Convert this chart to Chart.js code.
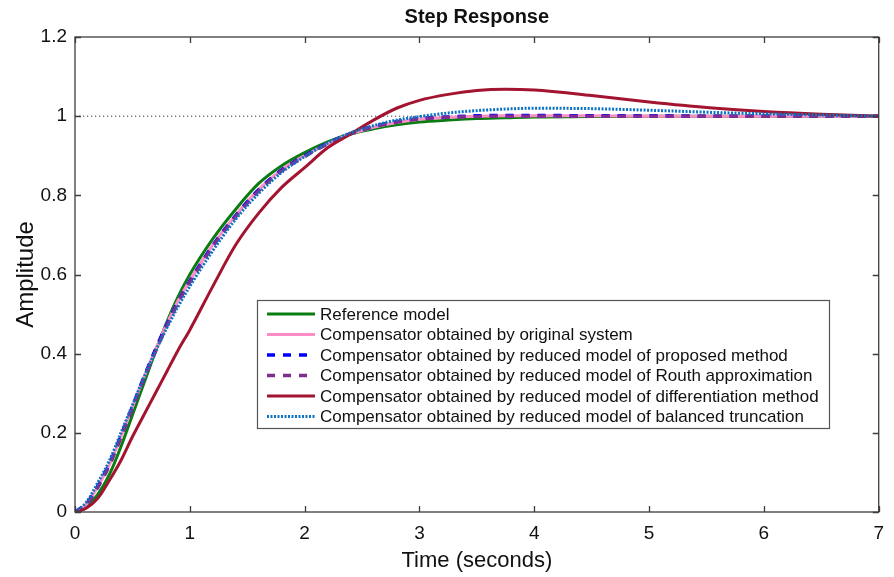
<!DOCTYPE html>
<html>
<head>
<meta charset="utf-8">
<script src="https://cdn.jsdelivr.net/npm/chart.js@4/dist/chart.umd.min.js"></script>
<style>
  html, body { margin: 0; padding: 0; background: #fff; }
  canvas { display: block; }
</style>
</head>
<body>
<canvas id="c" width="894" height="577"></canvas>
<script>
// ---- data ----
const time = [0,0.1,0.2,0.3,0.4,0.5,0.6,0.7,0.8,0.9,1.0,1.2,1.4,1.6,1.8,2.0,2.2,2.4,2.6,2.8,3.0,3.25,3.5,3.75,4.0,4.5,5.0,5.5,6.0,6.5,7.0];
const referenceModel = [0,0.012,0.045,0.095,0.165,0.245,0.325,0.405,0.48,0.545,0.6,0.69,0.765,0.83,0.875,0.908,0.935,0.955,0.968,0.978,0.985,0.99,0.994,0.996,0.998,0.999,1,1,1,1,1];
const originalSystem = [0,0.02,0.065,0.12,0.19,0.265,0.34,0.41,0.475,0.535,0.585,0.675,0.75,0.815,0.865,0.9,0.93,0.955,0.972,0.984,0.992,0.997,1.0,1.001,1.001,1.001,1,1,1,1,1];
const proposedMethod = [0,0.021,0.066,0.122,0.192,0.266,0.34,0.41,0.474,0.533,0.583,0.673,0.749,0.814,0.864,0.9,0.931,0.956,0.974,0.986,0.994,0.998,1.001,1.002,1.002,1.001,1.001,1,1,1,1];
const routhApprox = [0,0.019,0.063,0.118,0.188,0.262,0.336,0.405,0.47,0.53,0.58,0.67,0.746,0.811,0.862,0.898,0.93,0.955,0.973,0.985,0.993,0.997,0.999,1.0,1.0,1.0,1,1,1,1,1];
const differentiation = [0,0.01,0.035,0.08,0.13,0.19,0.245,0.3,0.355,0.41,0.46,0.57,0.675,0.755,0.82,0.87,0.92,0.955,0.99,1.02,1.04,1.055,1.065,1.068,1.066,1.052,1.036,1.022,1.012,1.005,1.0];
const balancedTrunc = [0,0.025,0.075,0.13,0.2,0.27,0.34,0.405,0.465,0.52,0.57,0.66,0.74,0.805,0.858,0.898,0.932,0.958,0.976,0.99,0.999,1.008,1.014,1.018,1.02,1.019,1.015,1.01,1.006,1.003,1.0];
const steadyTime = [0,7];
const steadyValue = [1,1];

const chartTitle = 'Step Response';
const seriesLabels = [
  'Reference model',
  'Compensator obtained by original system',
  'Compensator obtained by reduced model of proposed method',
  'Compensator obtained by reduced model of Routh approximation',
  'Compensator obtained by reduced model of differentiation method',
  'Compensator obtained by reduced model of balanced truncation'
];
const xTickValues = [0,1,2,3,4,5,6,7];
const xTickLabels = ['0','1','2','3','4','5','6','7'];
const yTickValues = [0,0.2,0.4,0.6,0.8,1,1.2];
const yTickLabels = ['0','0.2','0.4','0.6','0.8','1','1.2'];

// ---- build ----
const FONT = '"Liberation Sans", Arial, Helvetica, sans-serif';
Chart.defaults.font.family = FONT;
Chart.defaults.color = '#111';

function pts(xs, ys) { return xs.map((t, i) => ({x: t, y: ys[i]})); }

const styles = [
  {color: '#0a7d12', width: 3, dash: []},
  {color: '#ff8cc6', width: 3, dash: []},
  {color: '#0000ff', width: 3.5, dash: [8, 8]},
  {color: '#7e2f8e', width: 3.5, dash: [8, 8]},
  {color: '#a2142f', width: 3, dash: []},
  {color: '#0b72c4', width: 3, dash: [2, 1.5]}
];
const seriesData = [referenceModel, originalSystem, proposedMethod, routhApprox, differentiation, balancedTrunc];

const datasets = seriesData.map((vals, i) => ({
  label: seriesLabels[i],
  data: pts(time, vals),
  borderColor: styles[i].color,
  borderWidth: styles[i].width,
  borderDash: styles[i].dash,
  pointRadius: 0,
  fill: false,
  cubicInterpolationMode: 'monotone',
  order: 6 - i,
  isSeries: true
}));
datasets.push({
  label: 'steady',
  data: pts(steadyTime, steadyValue),
  borderColor: '#333',
  borderWidth: 1,
  borderDash: [1.2, 2.8],
  pointRadius: 0,
  fill: false,
  order: 10,
  isSeries: false
});

const framePlugin = {
  id: 'frame',
  afterDatasetsDraw(chart) {
    const {ctx, chartArea: {left, right, top, bottom}, scales: {x, y}} = chart;
    ctx.save();
    ctx.strokeStyle = '#3c3c3c';
    ctx.lineWidth = 1.3;
    ctx.setLineDash([]);
    ctx.strokeRect(left, top, right - left, bottom - top);
    const tl = 6;
    ctx.beginPath();
    xTickValues.forEach(v => {
      const px = Math.round(x.getPixelForValue(v)) + 0.5;
      ctx.moveTo(px, bottom); ctx.lineTo(px, bottom - tl);
      ctx.moveTo(px, top); ctx.lineTo(px, top + tl);
    });
    yTickValues.forEach(v => {
      const py = Math.round(y.getPixelForValue(v)) + 0.5;
      ctx.moveTo(left, py); ctx.lineTo(left + tl, py);
      ctx.moveTo(right, py); ctx.lineTo(right - tl, py);
    });
    ctx.stroke();
    ctx.restore();
  },
  afterDraw(chart) {
    const {ctx, chartArea: {left, right, top}} = chart;
    ctx.save();
    // title centred over the axes
    ctx.font = 'bold 20px ' + FONT;
    ctx.fillStyle = '#111';
    ctx.textAlign = 'center';
    ctx.textBaseline = 'middle';
    ctx.fillText(chartTitle, (left + right) / 2, top - 20);
    // legend
    const bx = 257, by = 300, bw = 572, bh = 128;
    ctx.fillStyle = '#fff';
    ctx.fillRect(bx, by, bw, bh);
    ctx.strokeStyle = '#555';
    ctx.lineWidth = 1.2;
    ctx.strokeRect(bx + 0.5, by + 0.5, bw, bh);
    ctx.font = '17px ' + FONT;
    ctx.textAlign = 'left';
    ctx.textBaseline = 'middle';
    ctx.fillStyle = '#111';
    const rowH = 20.5;
    const y0 = 314;
    chart.data.datasets.filter(d => d.isSeries).forEach((d, i) => {
      const ry = y0 + i * rowH;
      ctx.beginPath();
      ctx.strokeStyle = d.borderColor;
      ctx.lineWidth = d.borderWidth;
      ctx.setLineDash(d.borderDash || []);
      ctx.moveTo(267, ry);
      ctx.lineTo(315, ry);
      ctx.stroke();
      ctx.setLineDash([]);
      ctx.fillText(d.label, 320, ry + 1);
    });
    ctx.restore();
  }
};

new Chart(document.getElementById('c'), {
  type: 'line',
  data: {datasets},
  options: {
    responsive: false,
    animation: false,
    layout: {padding: {top: 37, right: 10, bottom: 0, left: 0}},
    plugins: {
      legend: {display: false},
      tooltip: {enabled: false},
      title: {display: false}
    },
    scales: {
      x: {
        type: 'linear',
        min: 0, max: 7,
        grid: {display: false, drawTicks: false},
        border: {display: false},
        afterBuildTicks(s) { s.ticks = xTickValues.map(v => ({value: v})); },
        afterFit(s) { s.height = 65; },
        ticks: {
          padding: 10,
          maxRotation: 0,
          font: {size: 19, family: FONT},
          color: '#111',
          callback: (v) => xTickLabels[xTickValues.indexOf(v)]
        },
        title: {
          display: true,
          text: 'Time (seconds)',
          color: '#111',
          font: {size: 22, family: FONT},
          padding: {top: 0, bottom: 3}
        }
      },
      y: {
        type: 'linear',
        min: 0, max: 1.2,
        grid: {display: false, drawTicks: false},
        border: {display: false},
        afterBuildTicks(s) { s.ticks = yTickValues.map(v => ({value: v})); },
        afterFit(s) { s.width = 75; },
        ticks: {
          padding: 8,
          font: {size: 19, family: FONT},
          color: '#111',
          callback: (v) => yTickLabels[yTickValues.findIndex(t => Math.abs(t - v) < 1e-9)]
        },
        title: {
          display: true,
          text: 'Amplitude',
          color: '#111',
          font: {size: 24, family: FONT},
          padding: {top: 12, bottom: 0}
        }
      }
    }
  },
  plugins: [framePlugin]
});
</script>
</body>
</html>
